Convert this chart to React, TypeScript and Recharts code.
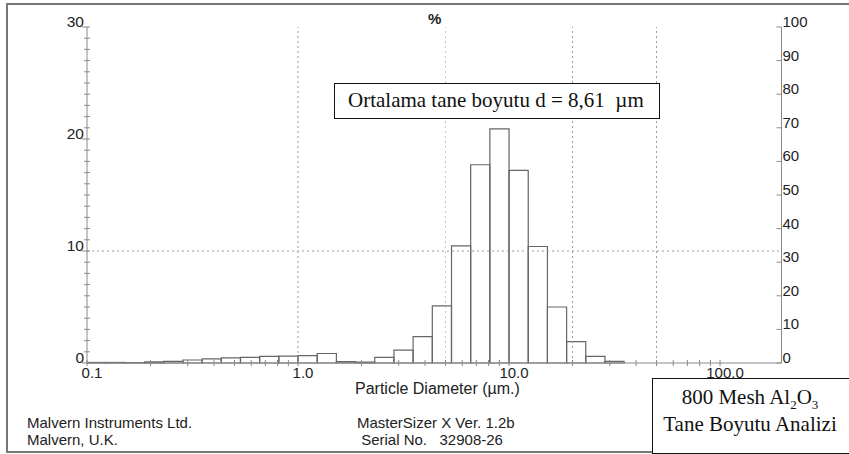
import { ComposedChart, Line, ReferenceArea, ReferenceLine, XAxis, YAxis } from 'recharts'

// bin edges (µm), 11 bins per decade
const BIN_EDGES = [
  0.1, 0.1233, 0.152, 0.1874, 0.231, 0.2848, 0.3511, 0.4329, 0.5337, 0.6579, 0.8111,
  1.0, 1.233, 1.52, 1.874, 2.31, 2.848, 3.511, 4.329, 5.337, 6.579, 8.111,
  10.0, 12.33, 15.2, 18.74, 23.1, 28.48, 35.11,
]

// volume % in each bin
const VOLUME = [
  0.05, 0.05, 0.03, 0.1, 0.15, 0.27, 0.36, 0.45, 0.5, 0.6, 0.62,
  0.65, 0.85, 0.12, 0.08, 0.5, 1.15, 2.35, 5.1, 10.45, 17.7, 20.9,
  17.2, 10.4, 5.0, 1.9, 0.6, 0.15,
]

const X_TICKS = [
  0.1, 0.2, 0.3, 0.4, 0.5, 0.6, 0.7, 0.8, 0.9,
  1, 2, 3, 4, 5, 6, 7, 8, 9,
  10, 20, 30, 40, 50, 60, 70, 80, 90, 100,
]
const X_LABELS: Record<number, string> = { 0.1: '0.1', 1: '1.0', 10: '10.0', 100: '100.0' }
const LEFT_TICKS = Array.from({ length: 31 }, (_, i) => i)
const RIGHT_TICKS = [0, 10, 20, 30, 40, 50, 60, 70, 80, 90, 100]
const GRID_X = [1, 5, 20, 50]
const GRID_Y = [10]

const data = VOLUME.map((v, i) => ({
  mid: Math.sqrt(BIN_EDGES[i] * BIN_EDGES[i + 1]),
  value: v,
}))

const AXIS = '#8a8a8a'
const TEXT = '#222'
const SANS = '"Liberation Sans", Arial, sans-serif'
const SERIF = '"Liberation Serif", "Times New Roman", serif'

const BottomTick = ({ x, y, payload }: any) => {
  const label = X_LABELS[payload.value]
  return (
    <g>
      <line x1={x} x2={x} y1={y - 3} y2={y + 3} stroke={AXIS} />
      {label && (
        <text x={x + 5} y={y + 15} textAnchor="middle" fontSize={15} fill={TEXT} fontFamily={SANS}>
          {label}
        </text>
      )}
    </g>
  )
}

const TopTick = ({ x, y }: any) => (
  <line x1={x} x2={x} y1={y - 3} y2={y + 3} stroke={AXIS} />
)

const LeftTick = ({ x, y, payload }: any) => {
  const major = payload.value % 10 === 0
  return (
    <g>
      <line x1={major ? x - 5 : x - 3} x2={x + 3} y1={y} y2={y} stroke={AXIS} />
      {major && (
        <text x={x - 3} y={y} textAnchor="end" fontSize={15.5} fill={TEXT} fontFamily={SANS}>
          {payload.value}
        </text>
      )}
    </g>
  )
}

const RightTick = ({ x, y, payload }: any) => (
  <g>
    <line x1={x - 5} x2={x} y1={y} y2={y} stroke={AXIS} />
    <text x={x + 1} y={y} textAnchor="start" fontSize={15} fill={TEXT} fontFamily={SANS}>
      {payload.value}
    </text>
  </g>
)

export default function App() {
  return (
    <div
      style={{
        position: 'fixed',
        left: 0,
        top: 0,
        width: 849,
        height: 454,
        overflow: 'hidden',
        background: '#fff',
        fontFamily: SANS,
        color: TEXT,
      }}
    >
      <ComposedChart
        width={849}
        height={454}
        data={data}
        margin={{ top: 27, right: 27.5, bottom: 71, left: 57 }}
      >
        <XAxis
          xAxisId="bottom"
          dataKey="mid"
          type="number"
          scale="log"
          domain={[0.1, 195.5]}
          allowDataOverflow
          ticks={X_TICKS}
          interval={0}
          tickSize={0}
          tickMargin={0}
          tickLine={false}
          tick={<BottomTick />}
          height={20}
          axisLine={{ stroke: AXIS }}
        />
        <XAxis
          xAxisId="top"
          orientation="top"
          dataKey="mid"
          type="number"
          scale="log"
          domain={[0.1, 195.5]}
          allowDataOverflow
          ticks={X_TICKS}
          interval={0}
          tickSize={0}
          tickMargin={0}
          tickLine={false}
          tick={<TopTick />}
          height={0}
          axisLine={{ stroke: AXIS }}
        />
        <YAxis
          yAxisId="left"
          domain={[0, 30]}
          ticks={LEFT_TICKS}
          interval={0}
          width={30}
          tickSize={0}
          tickMargin={0}
          tickLine={false}
          tick={<LeftTick />}
          axisLine={{ stroke: AXIS }}
        />
        <YAxis
          yAxisId="right"
          orientation="right"
          domain={[0, 100]}
          ticks={RIGHT_TICKS}
          interval={0}
          width={40}
          tickSize={0}
          tickMargin={0}
          tickLine={false}
          tick={<RightTick />}
          axisLine={{ stroke: AXIS }}
        />
        {GRID_X.map((g) => (
          <ReferenceLine
            key={`gx-${g}`}
            x={g}
            xAxisId="bottom"
            yAxisId="left"
            stroke={g === 5 ? '#c4c4c4' : '#9a9a9a'}
            strokeDasharray="2 3"
          />
        ))}
        {GRID_Y.map((g) => (
          <ReferenceLine
            key={`gy-${g}`}
            y={g}
            xAxisId="bottom"
            yAxisId="left"
            stroke="#9a9a9a"
            strokeDasharray="2 3"
          />
        ))}
        {VOLUME.map((v, i) => (
          <ReferenceArea
            key={`bin-${i}`}
            x1={BIN_EDGES[i]}
            x2={BIN_EDGES[i + 1]}
            y1={0}
            y2={v}
            xAxisId="bottom"
            yAxisId="left"
            fill="#fff"
            fillOpacity={0}
            stroke="#666"
            strokeWidth={1.2}
          />
        ))}
        <Line
          xAxisId="bottom"
          yAxisId="left"
          dataKey="value"
          stroke="none"
          dot={false}
          activeDot={false}
          isAnimationActive={false}
        />
        <Line
          xAxisId="top"
          yAxisId="right"
          dataKey="value"
          stroke="none"
          dot={false}
          activeDot={false}
          isAnimationActive={false}
        />
      </ComposedChart>

      {/* outer frame */}
      <div
        style={{
          position: 'absolute',
          left: 6,
          top: 3,
          width: 860,
          height: 450,
          border: '2px solid #777',
          boxSizing: 'border-box',
          pointerEvents: 'none',
        }}
      />

      <div style={{ position: 'absolute', left: 428, top: 10, fontSize: 15, fontWeight: 'bold' }}>%</div>
      <div style={{ position: 'absolute', left: 355, top: 380, fontSize: 16, whiteSpace: 'pre' }}>
        Particle Diameter (µm.)
      </div>
      <div style={{ position: 'absolute', left: 27, top: 414, fontSize: 15, lineHeight: '17px' }}>
        Malvern Instruments Ltd.
        <br />
        Malvern, U.K.
      </div>
      <div style={{ position: 'absolute', left: 357, top: 414, fontSize: 15, lineHeight: '17px', whiteSpace: 'pre' }}>
        MasterSizer X Ver. 1.2b
        <br />
        {' Serial No.   32908-26'}
      </div>

      <div
        style={{
          position: 'absolute',
          left: 334,
          top: 83,
          width: 326,
          height: 36,
          border: '1.5px solid #111',
          boxSizing: 'border-box',
          background: '#fff',
          fontFamily: SERIF,
          fontSize: 21,
          lineHeight: '33px',
          paddingLeft: 13,
          whiteSpace: 'pre',
          color: '#111',
        }}
      >
        Ortalama tane boyutu d = 8,61  µm
      </div>

      <div
        style={{
          position: 'absolute',
          left: 652,
          top: 378,
          width: 200,
          height: 76,
          border: '1.5px solid #111',
          boxSizing: 'border-box',
          background: '#fff',
          fontFamily: SERIF,
          fontSize: 21,
          lineHeight: '27px',
          paddingTop: 5,
          paddingRight: 4,
          textAlign: 'center',
          color: '#111',
        }}
      >
        800 Mesh Al<sub style={{ fontSize: 13, lineHeight: 0 }}>2</sub>O<sub style={{ fontSize: 13, lineHeight: 0 }}>3</sub>
        <br />
        Tane Boyutu Analizi
      </div>
    </div>
  )
}
